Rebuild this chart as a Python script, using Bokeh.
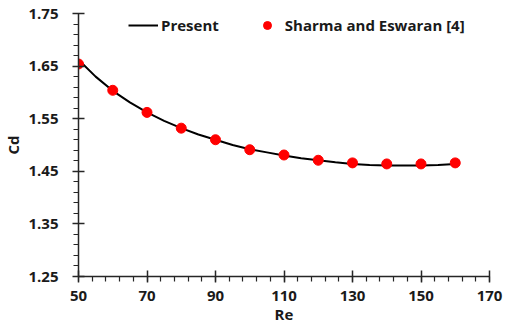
from bokeh.plotting import figure
from bokeh.models import Range1d, FixedTicker, Legend, LegendItem
from bokeh.embed import file_html
from bokeh.resources import INLINE

# Present (solid line)
re_present = [50, 55, 60, 65, 70, 75, 80, 85, 90, 95, 100, 105, 110, 115, 120,
              125, 130, 135, 140, 145, 150, 155, 160]
cd_present = [1.662, 1.630, 1.603, 1.581, 1.562, 1.546, 1.532, 1.520, 1.510, 1.500,
              1.492, 1.486, 1.480, 1.475, 1.471, 1.467, 1.464, 1.462, 1.461, 1.461,
              1.461, 1.462, 1.464]

# Sharma and Eswaran [4] (red dots)
re_ref = [50, 60, 70, 80, 90, 100, 110, 120, 130, 140, 150, 160]
cd_ref = [1.654, 1.604, 1.562, 1.532, 1.510, 1.491, 1.481, 1.471, 1.466, 1.464, 1.464, 1.466]

x_ticks = [50, 70, 90, 110, 130, 150, 170]
y_ticks = [1.25, 1.35, 1.45, 1.55, 1.65, 1.75]

FONT = "Open Sans"
AX = "#262626"

p = figure(width=505, height=327, output_backend="svg", toolbar_location=None,
           x_range=Range1d(50, 170), y_range=Range1d(1.25, 1.75),
           min_border_left=78, min_border_right=16, min_border_top=13, min_border_bottom=51)
p.outline_line_color = None
p.grid.visible = False
p.background_fill_color = "white"
p.border_fill_color = "white"

r_line = p.line(re_present, cd_present, line_color="black", line_width=2)
r_pts = p.scatter(re_ref, cd_ref, size=10, fill_color="#FF0000", line_color="#FF0000")

for ax in (p.xaxis[0], p.yaxis[0]):
    ax.axis_line_color = AX
    ax.axis_line_width = 1.5
    ax.major_tick_line_color = AX
    ax.minor_tick_line_color = AX
    ax.major_tick_line_width = 1.5
    ax.minor_tick_line_width = 1.2
    ax.major_tick_in = 6
    ax.major_tick_out = 6
    ax.minor_tick_in = 0
    ax.minor_tick_out = 5
    ax.major_label_text_font = FONT
    ax.major_label_text_font_style = "bold"
    ax.major_label_text_font_size = "15px"
    ax.major_label_text_color = "#1a1a1a"
    ax.axis_label_text_font = FONT
    ax.axis_label_text_font_style = "bold"
    ax.axis_label_text_font_size = "15px"
    ax.axis_label_text_color = "#1a1a1a"

p.xaxis.ticker = FixedTicker(ticks=x_ticks, minor_ticks=list(range(50, 171, 4)))
p.yaxis.ticker = FixedTicker(ticks=y_ticks, minor_ticks=[round(1.25 + 0.02 * i, 2) for i in range(26)])
p.xaxis.major_label_standoff = 8
p.yaxis.major_label_standoff = 14
p.xaxis.axis_label = "Re"
p.yaxis.axis_label = "Cd"
p.xaxis.axis_label_standoff = 0
p.yaxis.axis_label_standoff = 2

legend = Legend(items=[LegendItem(label="Present", renderers=[r_line]),
                       LegendItem(label="Sharma and Eswaran [4]", renderers=[r_pts])],
                orientation="horizontal", location=(50, 241),
                border_line_color=None, background_fill_alpha=0,
                padding=0, margin=0, spacing=33, glyph_width=30, glyph_height=20,
                label_standoff=3,
                label_text_font=FONT, label_text_font_style="bold",
                label_text_font_size="15px", label_text_color="#1a1a1a")
p.add_layout(legend, "center")

open("out.html", "w").write(file_html(p, INLINE))
